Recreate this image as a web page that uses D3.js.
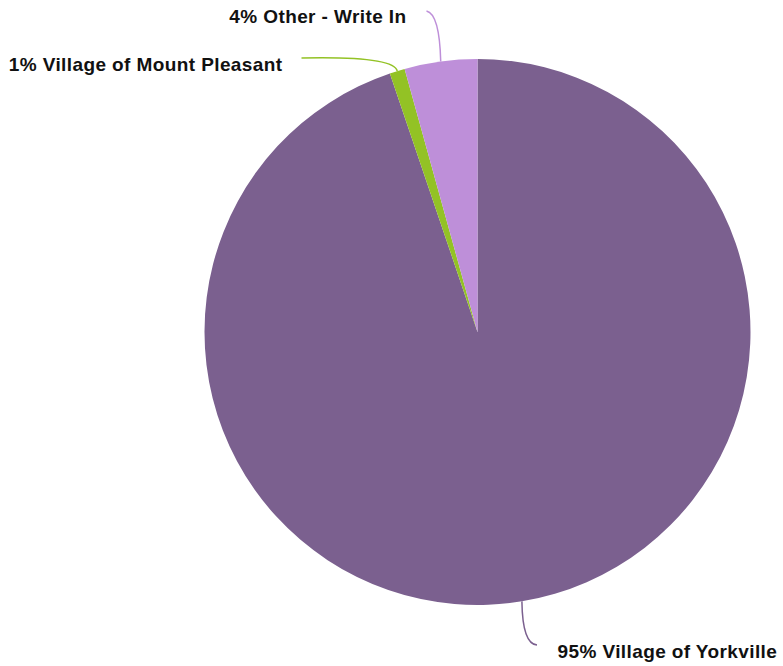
<!DOCTYPE html>
<html><head><meta charset="utf-8">
<script src="https://cdn.jsdelivr.net/npm/d3@7"></script>
<style>
html,body{margin:0;padding:0;background:#fff;}
svg{display:block;}
text{font-family:"Liberation Sans",Arial,Helvetica,sans-serif;font-weight:bold;font-size:19px;letter-spacing:0.4px;fill:#111;}
</style></head>
<body>
<svg id="chart" width="783" height="666"></svg>
<script>
const categories = ["Village of Yorkville", "Village of Mount Pleasant", "Other - Write In"];
const values = [94.8, 0.9, 4.3];
const labels = ["95% Village of Yorkville", "1% Village of Mount Pleasant", "4% Other - Write In"];
const colors = ["#7B608F", "#93C225", "#BE8FD9"];

const svg = d3.select("#chart");
const cx = 477.5, cy = 332, R = 273;
const g = svg.append("g").attr("transform", `translate(${cx},${cy})`);

const data = categories.map((c, i) => ({name: c, value: values[i], label: labels[i], color: colors[i]}));
const pie = d3.pie().value(d => d.value).sort(null);
const arcs = pie(data);
const arc = d3.arc().innerRadius(0).outerRadius(R);

g.selectAll("path.slice").data(arcs).enter().append("path")
  .attr("class", "slice")
  .attr("d", arc)
  .attr("fill", d => d.data.color);

// label layout (relative to chart center)
const labelLayout = [
  {tx: 80, ty: 325.5, anchor: "start", end: [59.5, 313], ctrl: [45, 312]},
  {tx: -195, ty: -261, anchor: "end", end: [-176, -274], ctrl: [-83, -276]},
  {tx: -71, ty: -309.5, anchor: "end", end: [-51, -321], ctrl: [-38, -318]}
];

arcs.forEach((a, i) => {
  const mid = (a.startAngle + a.endAngle) / 2;
  const sx = R * Math.sin(mid), sy = -R * Math.cos(mid);
  const L = labelLayout[i];
  const p = d3.path();
  p.moveTo(sx, sy);
  p.quadraticCurveTo(L.ctrl[0], L.ctrl[1], L.end[0], L.end[1]);
  g.append("path").attr("d", p.toString())
    .attr("fill", "none").attr("stroke", a.data.color).attr("stroke-width", 1.5);
  g.append("text").attr("x", L.tx).attr("y", L.ty)
    .attr("text-anchor", L.anchor).text(a.data.label);
});
</script>
</body></html>
